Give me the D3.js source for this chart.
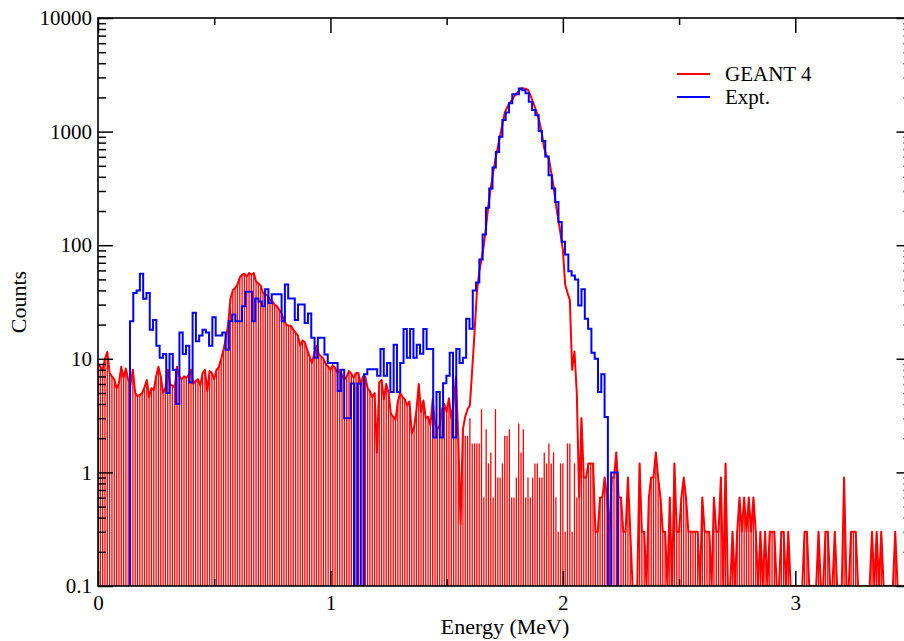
<!DOCTYPE html>
<html>
<head>
<meta charset="utf-8">
<title>GEANT 4 / Expt. energy spectrum</title>
<script src="https://cdn.jsdelivr.net/npm/d3@7"></script>
<style>
    body { margin: 0; background: #fff; }
    svg { display: block; font-family: "Liberation Serif", "DejaVu Serif", serif; }
</style>
</head>
<body>
<svg width="904" height="641" id="mainsvg"></svg>
<script>
// GEANT 4 spectrum, one value every 0.01 MeV from 0 MeV (0 = empty bin)
const geantStep = 0.01;
const geantCounts = [
    9, 8.5, 8, 10, 11.5, 7.5, 7, 6.6, 5.5, 6.1,
    8.5, 6.8, 8.2, 6.5, 6, 8, 5, 4.7, 4.8, 5,
    5.6, 6.5, 4.6, 5.5, 5.3, 7, 8.5, 7, 5, 5.5,
    8, 6, 5.8, 5.6, 8.5, 7, 6.6, 7, 6.8, 7.2,
    8, 6, 6.4, 6.6, 5.8, 7.5, 8, 5.2, 7.8, 7.5,
    6.6, 8, 8.5, 10, 12, 15, 20, 34, 40, 42,
    45, 52, 55, 56, 53, 57, 55, 57, 48, 46,
    44, 38, 37, 36, 33, 32, 30, 29, 27, 25,
    22, 20, 19.5, 19.5, 18, 17, 16, 13, 14.5, 14,
    12, 10.5, 9.2, 11, 13, 11, 10.5, 10, 9, 8.6,
    8, 8.8, 8.3, 7.5, 8, 7.2, 6.6, 7, 7.8, 7.4,
    6.8, 7.5, 7.5, 6, 7, 7, 5.5, 5.2, 4.6, 5,
    1.5, 6.2, 6.5, 4.4, 6, 5, 3.3, 3.1, 2.9, 4.2,
    5, 4.6, 4.4, 3.9, 4.2, 2.2, 2.5, 3.5, 6, 3.4,
    4.3, 3, 3.1, 2.6, 4.4, 2.7, 2.4, 2.6, 3.6, 4,
    3.4, 4.5, 3, 4, 7, 2, 0.35, 2.4, 3.1, 3.6,
    3.9, 8, 17, 38, 58, 75, 100, 147, 228, 320,
    435, 570, 725, 920, 1160, 1470, 1630, 1780, 1880, 2040,
    2140, 2290, 2400, 2400, 2380, 2330, 2100, 1866, 1630, 1430,
    1200, 950, 710, 611, 580, 435, 330, 228, 170, 125,
    92, 45, 38, 33, 8, 11.6, 5, 0.6, 3, 0.9,
    0.9, 1.2, 1.2, 1.2, 0.3, 0.3, 0.6, 0.6, 0.9, 0.6,
    0.3, 0.9, 0.9, 1.5, 0.6, 0.6, 0.3, 0.3, 0.9, 0.3,
    0, 0, 0, 1.2, 0.3, 0.3, 0, 0.6, 0.9, 0.9,
    1.5, 0.9, 0.6, 0.3, 0.3, 0, 0.6, 0, 1.2, 0.3,
    0.3, 0.6, 0.9, 0.6, 0.3, 0.3, 0.3, 0.3, 0.3, 0,
    0.6, 0.3, 0.3, 0.3, 0, 0.6, 0.3, 0.3, 0.9, 0,
    1.2, 0, 0, 0.3, 0, 0.3, 0.6, 0.3, 0.6, 0.3,
    0.6, 0.3, 0.6, 0.3, 0, 0.3, 0, 0.3, 0, 0.3,
    0.3, 0.3, 0, 0, 0.3, 0.3, 0, 0.3, 0, 0,
    0, 0, 0, 0, 0.3, 0.3, 0, 0, 0, 0,
    0.3, 0, 0, 0.3, 0.3, 0, 0, 0.3, 0, 0,
    0, 0.9, 0, 0, 0.3, 0.3, 0.3, 0, 0, 0,
    0, 0, 0, 0.3, 0, 0.3, 0, 0.3, 0, 0,
    0, 0, 0, 0.3, 0, 0, 0
];
// under the photopeak the drop bars are a lot lower than the line (bins 157..207)
const geantPeakFirstBin = 157;
const geantPeakBars = [
    2.4, 2.1, 2.1, 3.0, 1.8, 1.8, 1.8, 1.8, 3.6, 0.6,
    2.4, 1.2, 1.5, 0.6, 3.6, 0.9, 0.9, 1.2, 2.1, 2.1,
    2.4, 0.6, 0.6, 0.9, 2.7, 1.5, 2.4, 0.6, 0.9, 0.6,
    0.9, 1.2, 1.2, 0.9, 0.9, 1.5, 1.2, 1.8, 1.2, 1.5,
    0.6, 0.3, 1.2, 1.2, 0.3, 1.8, 1.8, 0.3, 1.2, 0.6,
    0.6
];
// measured histogram
const exptStart = 0.1376;
const exptBin = 0.01418;
const exptCounts = [
    21.4, 38, 40, 56, 33.7, 38, 18, 22, 13, 10.2,
    11, 5, 11, 8, 4, 17, 11, 13, 6.2, 25.4,
    14.3, 16, 18, 17, 13, 23.2, 16, 16, 17, 12,
    21.4, 24.5, 21.4, 21.4, 29, 39, 39, 21.4, 34, 32,
    29, 41, 31, 37, 37, 37, 21.4, 45, 34, 34,
    22, 30, 30, 20.7, 25, 15.3, 10.2, 15.3, 15.3, 10.9,
    9.2, 9.2, 9.2, 5.2, 8, 3, 3, 6.05, 0, 6.05,
    0, 7.3, 8.1, 8.1, 8.1, 7.1, 12.2, 7.1, 9.2, 5.1,
    13.3, 5.1, 9.2, 18.3, 10.2, 18.3, 10.2, 13.3, 11.1, 18.3,
    12.2, 12.2, 2.03, 5.1, 2.03, 6.1, 7.1, 11.3, 2.03, 12.2,
    9.2, 10.2, 22.5, 18.4, 40, 47, 75, 124, 214, 315,
    482, 662, 903, 1268, 1472, 1779, 2136, 2136, 2397, 2317,
    2181, 1828, 1553, 1394, 1014, 828, 603, 412, 315, 240,
    160, 107, 83, 59, 54, 50, 29.5, 41, 22.5, 18.4,
    11.3, 10, 5.1, 7.3, 3.07, 0, 1, 1
];
const xMajorTicks = [0, 1, 2, 3];
const xMinorTicks = [0.5, 1.5, 2.5, 3.5];
const yMajorTicks = [0.1, 1, 10, 100, 1000, 10000];
const legendNames = ['GEANT 4', 'Expt.'];
const seriesColors = ['#ff0000', '#0000ff'];

const svg = d3.select('#mainsvg');
const plot = { left: 98, right: 911.5, top: 18, bottom: 586 };

const xScale = d3.scaleLinear().domain([0, 3.5]).range([plot.left, plot.right]);
const yScale = d3.scaleLog().domain([0.1, 10000]).range([plot.bottom, plot.top]);
const yMin = 0.1;
const yOf = v => yScale(v > yMin ? v : yMin);

// minor log ticks 2..9 in every decade
const yMinorTicks = [];
yMajorTicks.slice(0, -1).forEach(d => {
    for (let m = 2; m <= 9; m++) yMinorTicks.push(d * m);
});

svg.append('defs').append('clipPath').attr('id', 'plotclip')
    .append('rect')
    .attr('x', plot.left).attr('y', plot.top)
    .attr('width', plot.right - plot.left).attr('height', plot.bottom - plot.top);

const dataGroup = svg.append('g').attr('clip-path', 'url(#plotclip)');

// GEANT 4 drop bars
const geant = geantCounts.map((v, i) => ({ e: i * geantStep, v: v }));
const barData = geant.map((d, i) => {
    const j = i - geantPeakFirstBin;
    const b = (j >= 0 && j < geantPeakBars.length) ? geantPeakBars[j] : d.v;
    return { e: d.e, v: b };
}).filter(d => d.v > yMin);

dataGroup.selectAll('.gbar').data(barData).enter().append('line')
    .attr('class', 'gbar')
    .attr('x1', d => xScale(d.e)).attr('x2', d => xScale(d.e))
    .attr('y1', yScale(yMin)).attr('y2', d => yScale(d.v))
    .attr('stroke', seriesColors[0]).attr('stroke-width', 1.3);

// GEANT 4 line
const geantLine = d3.line().x(d => xScale(d.e)).y(d => yOf(d.v));
dataGroup.append('path').datum(geant)
    .attr('d', geantLine)
    .attr('fill', 'none').attr('stroke', seriesColors[0])
    .attr('stroke-width', 2).attr('stroke-linejoin', 'round');

// Expt. step histogram
const steps = [{ e: exptStart, v: 0 }];
exptCounts.forEach((v, j) => steps.push({ e: exptStart + j * exptBin, v: v }));
steps.push({ e: exptStart + exptCounts.length * exptBin, v: exptCounts[exptCounts.length - 1] });
steps.push({ e: exptStart + exptCounts.length * exptBin, v: 0 });
const stepLine = d3.line().x(d => xScale(d.e)).y(d => yOf(d.v)).curve(d3.curveStepAfter);
dataGroup.append('path').datum(steps)
    .attr('d', stepLine)
    .attr('fill', 'none').attr('stroke', seriesColors[1])
    .attr('stroke-width', 2).attr('stroke-linejoin', 'miter');

// axes: ticks point inwards on all four sides
const fmt = d => String(d);
function styleAxis(g) {
    g.select('.domain').remove();
    g.selectAll('.tick line').attr('stroke', '#000').attr('stroke-width', 1.5);
    g.selectAll('.tick text').attr('font-size', 21).attr('fill', '#000')
        .attr('font-family', '"Liberation Serif", serif');
}
svg.append('g').attr('transform', `translate(${plot.left},0)`)
    .call(d3.axisLeft(yScale).tickValues(yMajorTicks).tickFormat(fmt).tickSizeInner(-15).tickSizeOuter(0).tickPadding(6))
    .call(styleAxis);
svg.append('g').attr('transform', `translate(${plot.left},0)`)
    .call(d3.axisLeft(yScale).tickValues(yMinorTicks).tickFormat('').tickSizeInner(-8).tickSizeOuter(0))
    .call(styleAxis);
svg.append('g').attr('transform', `translate(${plot.right},0)`)
    .call(d3.axisRight(yScale).tickValues(yMajorTicks).tickFormat('').tickSizeInner(-15).tickSizeOuter(0))
    .call(styleAxis);
svg.append('g').attr('transform', `translate(${plot.right},0)`)
    .call(d3.axisRight(yScale).tickValues(yMinorTicks).tickFormat('').tickSizeInner(-8).tickSizeOuter(0))
    .call(styleAxis);
svg.append('g').attr('transform', `translate(0,${plot.bottom})`)
    .call(d3.axisBottom(xScale).tickValues(xMajorTicks).tickFormat(fmt).tickSizeInner(-15).tickSizeOuter(0).tickPadding(9))
    .call(styleAxis);
svg.append('g').attr('transform', `translate(0,${plot.bottom})`)
    .call(d3.axisBottom(xScale).tickValues(xMinorTicks).tickFormat('').tickSizeInner(-7).tickSizeOuter(0))
    .call(styleAxis);
svg.append('g').attr('transform', `translate(0,${plot.top})`)
    .call(d3.axisTop(xScale).tickValues(xMajorTicks).tickFormat('').tickSizeInner(-15).tickSizeOuter(0))
    .call(styleAxis);
svg.append('g').attr('transform', `translate(0,${plot.top})`)
    .call(d3.axisTop(xScale).tickValues(xMinorTicks).tickFormat('').tickSizeInner(-7).tickSizeOuter(0))
    .call(styleAxis);

// frame
svg.append('rect')
    .attr('x', plot.left).attr('y', plot.top)
    .attr('width', plot.right - plot.left).attr('height', plot.bottom - plot.top)
    .attr('fill', 'none').attr('stroke', '#000').attr('stroke-width', 1.6);

// axis titles
svg.append('text').text('Energy (MeV)')
    .attr('x', 505).attr('y', 634).attr('text-anchor', 'middle')
    .attr('font-size', 22).attr('fill', '#000');
svg.append('text').text('Counts')
    .attr('transform', 'translate(26,302) rotate(-90)').attr('text-anchor', 'middle')
    .attr('font-size', 22).attr('fill', '#000');

// legend
const legend = svg.append('g');
legendNames.forEach((name, i) => {
    const ly = 74 + i * 23;
    legend.append('line')
        .attr('x1', 677).attr('x2', 710).attr('y1', ly).attr('y2', ly)
        .attr('stroke', seriesColors[i]).attr('stroke-width', 2);
    legend.append('text').text(name)
        .attr('x', 725).attr('y', ly + 7)
        .attr('font-size', 21).attr('fill', '#000');
});
</script>
</body>
</html>
